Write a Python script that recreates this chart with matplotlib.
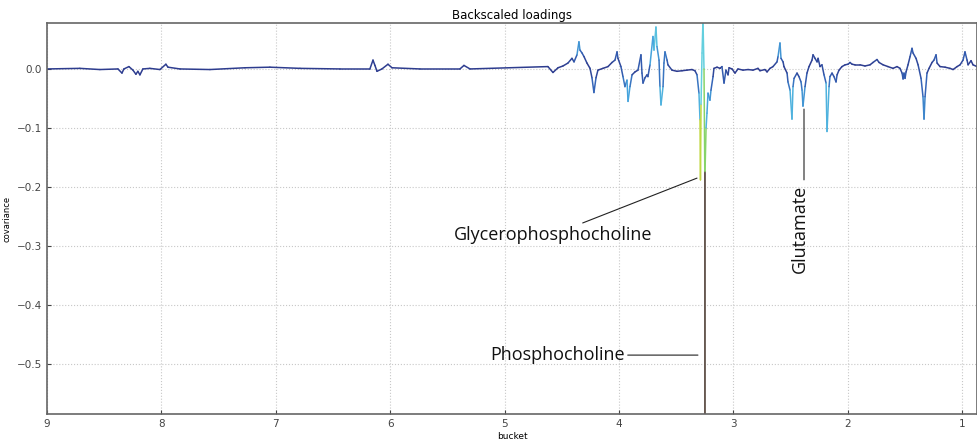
import numpy as np
import matplotlib
matplotlib.use("Agg")
import matplotlib.pyplot as plt
from matplotlib.collections import LineCollection
from matplotlib.colors import LinearSegmentedColormap

# chemical shift (ppm), covariance and correlation weight (used for colour)
ppm = [9.000, 8.712, 8.537, 8.379, 8.344, 8.327, 8.283, 8.248, 8.222, 8.205,
       8.187, 8.161, 8.100, 8.012, 7.960, 7.942, 7.837, 7.575, 7.269, 7.051,
       6.788, 6.439, 6.177, 6.150, 6.133, 6.115, 6.072, 6.019, 5.984, 5.740,
       5.390, 5.355, 5.302, 4.621, 4.577, 4.533, 4.490, 4.446, 4.411, 4.393,
       4.367, 4.350, 4.341, 4.323, 4.306, 4.280, 4.253, 4.236, 4.219, 4.201,
       4.184, 4.140, 4.096, 4.061, 4.035, 4.017, 4.009, 3.983, 3.965, 3.948,
       3.930, 3.921, 3.904, 3.886, 3.860, 3.834, 3.808, 3.799, 3.790, 3.773,
       3.755, 3.747, 3.729, 3.703, 3.694, 3.677, 3.668, 3.650, 3.642, 3.633,
       3.615, 3.607, 3.598, 3.580, 3.572, 3.537, 3.493, 3.449, 3.406, 3.362,
       3.336, 3.318, 3.301, 3.292, 3.288, 3.283, 3.274, 3.266, 3.257, 3.250,
       3.249, 3.248, 3.239, 3.231, 3.222, 3.205, 3.196, 3.178, 3.170, 3.143,
       3.117, 3.100, 3.082, 3.065, 3.047, 3.038, 3.012, 2.986, 2.960, 2.916,
       2.872, 2.829, 2.785, 2.768, 2.724, 2.706, 2.680, 2.654, 2.619, 2.610,
       2.593, 2.584, 2.566, 2.558, 2.531, 2.523, 2.505, 2.488, 2.479, 2.470,
       2.444, 2.427, 2.409, 2.400, 2.392, 2.374, 2.357, 2.339, 2.313, 2.304,
       2.287, 2.269, 2.260, 2.243, 2.226, 2.208, 2.190, 2.182, 2.164, 2.156,
       2.138, 2.121, 2.103, 2.094, 2.077, 2.051, 2.024, 1.998, 1.981, 1.963,
       1.937, 1.893, 1.850, 1.806, 1.780, 1.745, 1.727, 1.692, 1.649, 1.605,
       1.570, 1.544, 1.526, 1.517, 1.509, 1.500, 1.491, 1.474, 1.456, 1.439,
       1.430, 1.404, 1.386, 1.360, 1.343, 1.334, 1.325, 1.308, 1.290, 1.264,
       1.247, 1.229, 1.220, 1.194, 1.150, 1.107, 1.080, 1.045, 1.019, 0.993,
       0.976, 0.958, 0.949, 0.923, 0.906, 0.871]
cov = [0.000, 0.001, -0.001, 0.000, -0.007, 0.000, 0.004, -0.002, -0.009, -0.004,
       -0.010, 0.000, 0.001, -0.001, 0.008, 0.003, 0.000, -0.001, 0.002, 0.003,
       0.001, 0.000, 0.000, 0.015, 0.006, -0.004, 0.000, 0.008, 0.002, 0.000,
       0.000, 0.006, 0.000, 0.004, -0.006, 0.002, 0.005, 0.010, 0.018, 0.012,
       0.024, 0.046, 0.032, 0.027, 0.021, 0.010, 0.001, -0.015, -0.040, -0.015,
       -0.002, 0.001, 0.004, 0.011, 0.015, 0.029, 0.018, 0.004, -0.013, -0.030,
       -0.019, -0.055, -0.030, -0.010, -0.005, -0.002, 0.024, -0.007, -0.024, -0.015,
       -0.010, -0.013, 0.007, 0.055, 0.032, 0.071, 0.038, 0.015, -0.030, -0.061,
       -0.030, 0.010, 0.029, 0.015, 0.007, -0.002, -0.004, -0.003, -0.002, -0.001,
       -0.003, -0.010, -0.041, -0.086, -0.188, -0.060, 0.027, 0.083, 0.000, -0.174,
       -0.600, -0.174, -0.100, -0.075, -0.041, -0.053, -0.036, -0.013, 0.001, 0.003,
       0.001, 0.004, -0.024, -0.002, -0.010, 0.002, 0.000, -0.007, 0.000, -0.002,
       -0.001, -0.002, 0.001, -0.003, -0.001, -0.005, 0.001, 0.004, 0.012, 0.021,
       0.044, 0.018, 0.012, 0.004, -0.007, -0.022, -0.036, -0.085, -0.030, -0.016,
       -0.007, -0.013, -0.022, -0.036, -0.063, -0.030, -0.007, 0.004, 0.015, 0.024,
       0.018, 0.012, 0.018, 0.004, 0.007, -0.010, -0.024, -0.106, -0.030, -0.013,
       -0.007, -0.013, -0.022, -0.010, -0.002, 0.004, 0.007, 0.008, 0.011, 0.008,
       0.007, 0.007, 0.005, 0.007, 0.011, 0.016, 0.011, 0.007, 0.004, 0.001,
       0.004, 0.001, -0.007, -0.017, -0.007, -0.016, -0.005, 0.007, 0.021, 0.035,
       0.027, 0.018, 0.007, -0.016, -0.047, -0.085, -0.047, -0.007, 0.001, 0.011,
       0.015, 0.024, 0.010, 0.004, 0.003, 0.001, -0.001, 0.004, 0.007, 0.015,
       0.029, 0.015, 0.007, 0.014, 0.007, 0.004]
corr = [.05, .05, .05, .05, .1, .1, .1, .1, .1, .1,
        .1, .1, .05, .05, .1, .1, .05, .05, .05, .05,
        .05, .05, .05, .15, .1, .1, .05, .1, .05, .05,
        .05, .1, .05, .05, .1, .1, .1, .15, .2, .2,
        .3, .5, .35, .3, .2, .15, .1, .2, .35, .2,
        .1, .1, .1, .15, .2, .3, .2, .15, .3, .4,
        .35, .55, .4, .2, .15, .15, .3, .2, .3, .25,
        .2, .2, .3, .55, .45, .65, .5, .3, .4, .6,
        .4, .3, .4, .3, .2, .1, .1, .1, .1, .1,
        .1, .2, .4, .6, .88, .7, .6, .7, .7, .8,
        1.0, .8, .6, .55, .4, .5, .35, .2, .1, .1,
        .1, .1, .3, .1, .2, .1, .1, .1, .1, .1,
        .1, .1, .1, .1, .1, .1, .1, .1, .2, .3,
        .5, .3, .2, .1, .15, .3, .4, .6, .4, .3,
        .2, .2, .3, .4, .5, .3, .2, .1, .15, .2,
        .2, .15, .2, .15, .15, .25, .35, .6, .4, .3,
        .2, .25, .3, .2, .1, .1, .15, .15, .2, .15,
        .1, .1, .1, .1, .15, .2, .15, .1, .1, .1,
        .1, .1, .2, .3, .2, .3, .2, .15, .2, .3,
        .25, .2, .15, .25, .35, .45, .35, .2, .1, .15,
        .2, .3, .15, .1, .1, .1, .1, .1, .1, .2,
        .3, .2, .1, .15, .1, .1]

x_ticks = [9, 8, 7, 6, 5, 4, 3, 2, 1]
y_ticks = [0.0, -0.1, -0.2, -0.3, -0.4, -0.5]

cmap = LinearSegmentedColormap.from_list("loadings", [
    (0.0, "#2d3a8c"), (0.15, "#2e3f92"), (0.35, "#3565b8"), (0.55, "#46a4dd"),
    (0.7, "#62cfe0"), (0.82, "#8ed451"), (0.9, "#cfd93c"), (0.95, "#8f8055"),
    (1.0, "#64564e")])

fig = plt.figure(figsize=(9.77, 4.41), dpi=100)
ax = fig.add_axes([0.048, 0.061, 0.952, 0.887])

pts = np.column_stack([ppm, cov])
segs = np.stack([pts[:-1], pts[1:]], axis=1)
c = np.asarray(corr)
seg_c = np.maximum(c[:-1], c[1:])
lc = LineCollection(segs, colors=cmap(seg_c), linewidths=1.1, capstyle="round")
ax.add_collection(lc)

ax.set_xlim(9, 0.871)
ax.set_ylim(-0.585, 0.078)
ax.set_xticks(x_ticks)
ax.set_yticks(y_ticks)
ax.set_xticklabels([str(t) for t in x_ticks])
ax.set_yticklabels(["0.0" if t == 0 else "\u2212%.1f" % abs(t) for t in y_ticks])
ax.tick_params(labelsize=7.5, direction="in", length=3, colors="#444444")
ax.grid(True, linestyle=":", color="#c8c8c8", linewidth=0.8)
for s in ax.spines.values():
    s.set_color("#666666")
    s.set_linewidth(1.2)

ax.set_title("Backscaled loadings", fontsize=8.5, pad=3)
ax.set_xlabel("bucket", fontsize=6.5, labelpad=2)
ax.set_ylabel("covariance", fontsize=6, labelpad=4)

afont = dict(family="Open Sans", fontsize=13, color="#111111")
line = dict(arrowstyle="-", color="#222222", lw=0.8, shrinkA=0, shrinkB=0)
ax.annotate("Glycerophosphocholine", xy=(3.318, -0.185), xytext=(3.712, -0.281),
            ha="right", va="center", arrowprops=line, **afont)
ax.annotate("Phosphocholine", xy=(3.310, -0.485), xytext=(3.948, -0.485),
            ha="right", va="center", arrowprops=line, **afont)
ax.annotate("", xy=(2.383, -0.068), xytext=(2.383, -0.188), arrowprops=line)
ax.text(2.418, -0.196, "Glutamate", rotation=90, ha="center", va="top", **afont)

fig.savefig("out.png", dpi=100)
